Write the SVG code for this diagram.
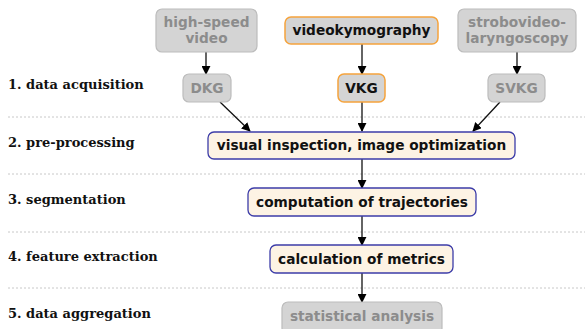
<svg xmlns="http://www.w3.org/2000/svg" width="585" height="329" viewBox="0 0 585 329">
<defs>
<marker id="ah" viewBox="0 0 10 10" refX="9" refY="5" markerWidth="9" markerHeight="9" markerUnits="userSpaceOnUse" orient="auto">
<path d="M0,0 L10,5 L0,10 z" fill="#000"/>
</marker>
<style>
.lbl{font-family:"DejaVu Serif",serif;font-weight:bold;font-size:13px;fill:#111}
.sep{stroke:#c8c8c8;stroke-width:1;stroke-dasharray:2,2}
.gbox{fill:#d4d4d4;stroke:#bcbcbc;stroke-width:1.2}
.obox{fill:#d4d4d4;stroke:#f5a33c;stroke-width:1.5}
.pbox{fill:#fdf3e4;stroke:#3c3ca8;stroke-width:1.3}
.t{font-family:"DejaVu Sans",sans-serif;font-weight:bold;font-size:13.7px;text-anchor:middle}
.tg{fill:#8c8c8c}
.tk{fill:#111}
.c{stroke:#111;stroke-width:1.3;fill:none;marker-end:url(#ah)}
</style>
</defs>
<rect width="585" height="329" fill="#fff"/>
<g id="separators">
<line class="sep" x1="8" y1="117" x2="585" y2="117"/>
<line class="sep" x1="8" y1="174" x2="585" y2="174"/>
<line class="sep" x1="8" y1="232" x2="585" y2="232"/>
<line class="sep" x1="8" y1="288" x2="585" y2="288"/>
</g>
<g id="labels">
<text class="lbl" x="8" y="89">1. data acquisition</text>
<text class="lbl" x="8" y="147">2. pre-processing</text>
<text class="lbl" x="8" y="204">3. segmentation</text>
<text class="lbl" x="8" y="261">4. feature extraction</text>
<text class="lbl" x="8" y="318">5. data aggregation</text>
</g>
<g id="connectors">
<line class="c" x1="206" y1="52" x2="206" y2="74"/>
<line class="c" x1="362" y1="44" x2="362" y2="74"/>
<line class="c" x1="517" y1="52" x2="517" y2="74"/>
<line class="c" x1="220" y1="102" x2="250" y2="131"/>
<line class="c" x1="362" y1="102" x2="362" y2="131"/>
<line class="c" x1="500" y1="102" x2="473" y2="131"/>
<line class="c" x1="362" y1="159" x2="362" y2="188"/>
<line class="c" x1="362" y1="216" x2="362" y2="245"/>
<line class="c" x1="362" y1="273" x2="362" y2="302"/>
</g>
<g id="hsv">
<rect class="gbox" x="156" y="9" width="101" height="43" rx="6"/>
<text class="t tg" x="206.5" y="27">high-speed</text>
<text class="t tg" x="206.5" y="43">video</text>
</g>
<g id="vkymo">
<rect class="obox" x="285" y="17" width="153" height="27" rx="6"/>
<text class="t tk" x="361.5" y="35">videokymography</text>
</g>
<g id="strobo">
<rect class="gbox" x="458" y="9" width="118" height="43" rx="6"/>
<text class="t tg" x="517" y="27">strobovideo-</text>
<text class="t tg" x="517" y="43">laryngoscopy</text>
</g>
<g id="dkg">
<rect class="gbox" x="183" y="74" width="48" height="28" rx="6"/>
<text class="t tg" x="207" y="93">DKG</text>
</g>
<g id="vkg">
<rect class="obox" x="338" y="74" width="47" height="28" rx="6"/>
<text class="t tk" x="361.5" y="93">VKG</text>
</g>
<g id="svkg">
<rect class="gbox" x="488" y="74" width="57" height="28" rx="6"/>
<text class="t tg" x="516.5" y="93">SVKG</text>
</g>
<g id="visual">
<rect class="pbox" x="208" y="132" width="307" height="27" rx="6"/>
<text class="t tk" x="361.5" y="150">visual inspection, image optimization</text>
</g>
<g id="traj">
<rect class="pbox" x="248" y="188" width="228" height="28" rx="6"/>
<text class="t tk" x="362" y="207">computation of trajectories</text>
</g>
<g id="metrics">
<rect class="pbox" x="270" y="245" width="183" height="28" rx="6"/>
<text class="t tk" x="361.5" y="264">calculation of metrics</text>
</g>
<g id="stats">
<rect class="gbox" x="282" y="302" width="160" height="32" rx="6"/>
<text class="t tg" x="362" y="321">statistical analysis</text>
</g>
</svg>
